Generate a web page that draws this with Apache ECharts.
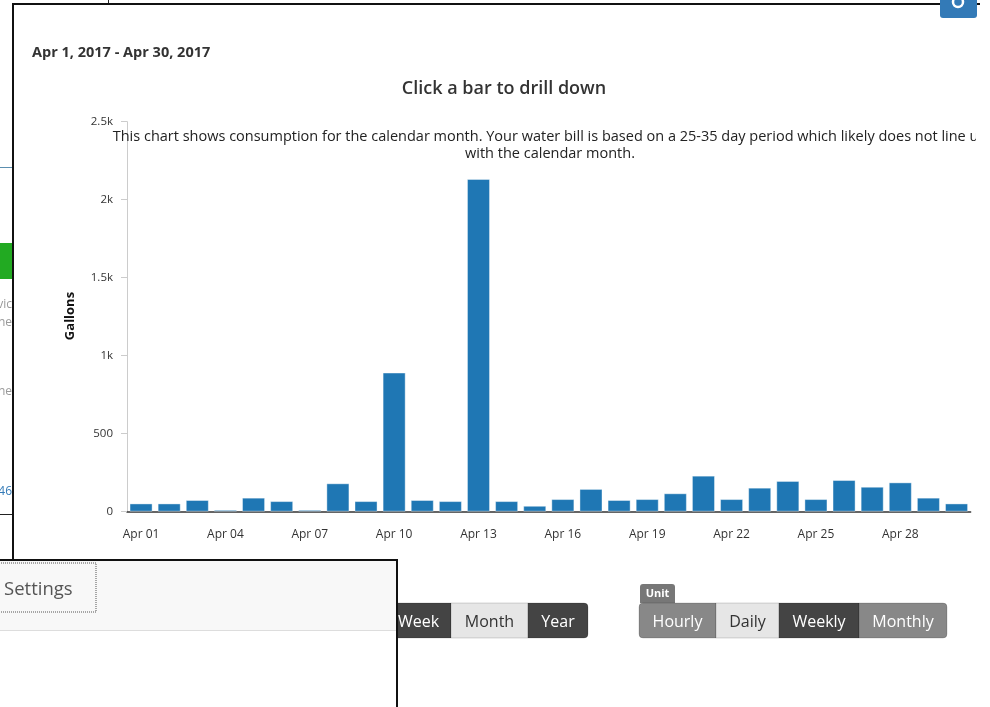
<!DOCTYPE html>
<html>
<head>
<meta charset="utf-8">
<script src="https://cdn.jsdelivr.net/npm/echarts@6/dist/echarts.min.js"></script>
<style>
html,body{margin:0;padding:0;background:#fff;}
#chart{width:990px;height:707px;}
</style>
</head>
<body>
<div id="chart"></div>
<script>
// ---- data ----
const days = ["Apr 01","Apr 02","Apr 03","Apr 04","Apr 05","Apr 06","Apr 07","Apr 08","Apr 09","Apr 10",
  "Apr 11","Apr 12","Apr 13","Apr 14","Apr 15","Apr 16","Apr 17","Apr 18","Apr 19","Apr 20",
  "Apr 21","Apr 22","Apr 23","Apr 24","Apr 25","Apr 26","Apr 27","Apr 28","Apr 29","Apr 30"];
const gallons = [53,53,75,12,90,68,12,182,68,892,
  75,68,2133,68,38,81,146,75,81,118,
  231,81,154,197,81,203,160,188,90,53];
const yTicks = [0,500,1000,1500,2000,2500];
const dateRange = "Apr 1, 2017 - Apr 30, 2017";
const chartTitle = "Click a bar to drill down";
const note = "This chart shows consumption for the calendar month. Your water bill is based on a 25-35 day period which likely does not line up\nwith the calendar month.";
const yName = "Gallons";
const periodButtons = ["Week","Month","Year"];
const unitButtons = ["Hourly","Daily","Weekly","Monthly"];

const FONT = "'Open Sans', 'Noto Sans', sans-serif";
const chart = echarts.init(document.getElementById('chart'), null, {renderer:'canvas'});

function btn(x, w, label, fill, color, r, tx) {
  return {
    type:'group', children:[
      {type:'rect', shape:{x:x, y:603, width:w, height:35, r:r}, style:{fill:fill, stroke:'rgba(0,0,0,0.15)', lineWidth:1}, z:10},
      {type:'text', x: tx !== undefined ? tx : x + w/2, y:622, style:{text:label, fill:color, font:'16px ' + FONT, textAlign: tx !== undefined ? 'left':'center', textVerticalAlign:'middle'}, z:11}
    ]
  };
}

const graphics = [
  // background page clutter on the far left
  {type:'rect', shape:{x:0, y:167, width:12, height:1}, style:{fill:'#5b8fb0'}},
  {type:'rect', shape:{x:0, y:243, width:12, height:36}, style:{fill:'#22aa22'}},
  {type:'text', x:12, y:305, style:{text:'vic', fill:'#999', font:'12px ' + FONT, textAlign:'right', textVerticalAlign:'middle'}},
  {type:'text', x:12, y:323, style:{text:'ne', fill:'#999', font:'12px ' + FONT, textAlign:'right', textVerticalAlign:'middle'}},
  {type:'text', x:12, y:392, style:{text:'ne', fill:'#999', font:'12px ' + FONT, textAlign:'right', textVerticalAlign:'middle'}},
  {type:'text', x:12, y:492, style:{text:'46', fill:'#337ab7', font:'12px ' + FONT, textAlign:'right', textVerticalAlign:'middle'}},
  {type:'rect', shape:{x:0, y:514, width:12, height:1}, style:{fill:'#222'}},
  {type:'rect', shape:{x:108, y:0, width:1, height:4}, style:{fill:'#222'}},
  // main modal frame
  {type:'rect', shape:{x:12, y:3, width:968, height:2}, style:{fill:'#111'}},
  {type:'rect', shape:{x:12, y:3, width:2, height:558}, style:{fill:'#111'}},
  // top-right blue button
  {type:'rect', shape:{x:940, y:-6, width:37, height:24, r:3}, style:{fill:'#337ab7'}},
  {type:'circle', shape:{cx:958, cy:2, r:5}, style:{fill:'none', stroke:'#fff', lineWidth:2.5}},
  // date range + title + note
  {type:'text', x:32, y:53, style:{text:dateRange, fill:'#333', font:'bold 14.5px ' + FONT, textVerticalAlign:'middle'}},
  {type:'text', x:504, y:88.5, style:{text:chartTitle, fill:'#333', font:'600 18px ' + FONT, textAlign:'center', textVerticalAlign:'middle'}},
  {type:'text', x:550, y:145, style:{text:note, fill:'#222', font:'14.5px ' + FONT, textAlign:'center', textVerticalAlign:'middle', lineHeight:17}, z:5},
  {type:'rect', shape:{x:976, y:122, width:14, height:40}, style:{fill:'#fff'}, z:6},
  // y axis name
  {type:'text', x:70, y:316, rotation:Math.PI/2, style:{text:yName, fill:'#111', font:'bold 13px ' + FONT, textAlign:'center', textVerticalAlign:'middle'}},
  // period button group
  btn(380, 71, periodButtons[0], '#444', '#fff', [4,0,0,4], 398),
  btn(451, 77, periodButtons[1], '#e6e6e6', '#333', 0),
  btn(528, 60, periodButtons[2], '#444', '#fff', [0,4,4,0]),
  // unit label and button group
  {type:'rect', shape:{x:640, y:584, width:35, height:19, r:[3,3,0,0]}, style:{fill:'#777'}, z:10},
  {type:'text', x:657.5, y:593.5, style:{text:'Unit', fill:'#fff', font:'bold 11px ' + FONT, textAlign:'center', textVerticalAlign:'middle'}, z:11},
  btn(639, 77, unitButtons[0], '#888', '#fff', [4,0,0,4]),
  btn(716, 63, unitButtons[1], '#e6e6e6', '#333', 0),
  btn(779, 80, unitButtons[2], '#444', '#fff', 0),
  btn(859, 88, unitButtons[3], '#888', '#fff', [0,4,4,0]),
  // settings panel (overlapping window, bottom-left)
  {type:'rect', shape:{x:-2, y:560, width:399, height:150}, style:{fill:'#fff', stroke:'#111', lineWidth:2}, z:20},
  {type:'rect', shape:{x:0, y:561, width:396, height:69}, style:{fill:'#f8f8f8'}, z:21},
  {type:'rect', shape:{x:0, y:630, width:396, height:1}, style:{fill:'#ddd'}, z:21},
  {type:'rect', shape:{x:-5, y:563, width:101, height:49}, style:{fill:'none', stroke:'#555', lineWidth:1, lineDash:[1,1]}, z:22},
  {type:'text', x:4, y:589.5, style:{text:'Settings', fill:'#555', font:'18.5px ' + FONT, textVerticalAlign:'middle'}, z:22}
];

const option = {
  backgroundColor:'#fff',
  animation:false,
  grid:{left:127, right:19.4, top:121.7, bottom:195.3},
  xAxis:{
    type:'category',
    data:days,
    axisLine:{lineStyle:{color:'#333', width:1.5}},
    axisTick:{alignWithLabel:true, interval:2, length:6, lineStyle:{color:'#333'}},
    axisLabel:{interval:2, color:'#333', fontSize:12, fontFamily:FONT, margin:17}
  },
  yAxis:{
    type:'value',
    min:yTicks[0], max:yTicks[yTicks.length-1], interval:500,
    axisLine:{show:true, lineStyle:{color:'#ccc'}},
    axisTick:{show:true, length:6, lineStyle:{color:'#ccc'}},
    splitLine:{show:false},
    axisLabel:{color:'#333', fontSize:11.5, fontFamily:FONT, margin:14,
      formatter:v => v >= 1000 ? (v/1000) + 'k' : String(v)}
  },
  series:[{
    type:'bar',
    data:gallons,
    barCategoryGap:'18%',
    itemStyle:{color:'#1f77b4', borderColor:'rgba(255,255,255,0.4)', borderWidth:1}
  }],
  graphic:graphics
};
chart.setOption(option);
</script>
</body>
</html>
